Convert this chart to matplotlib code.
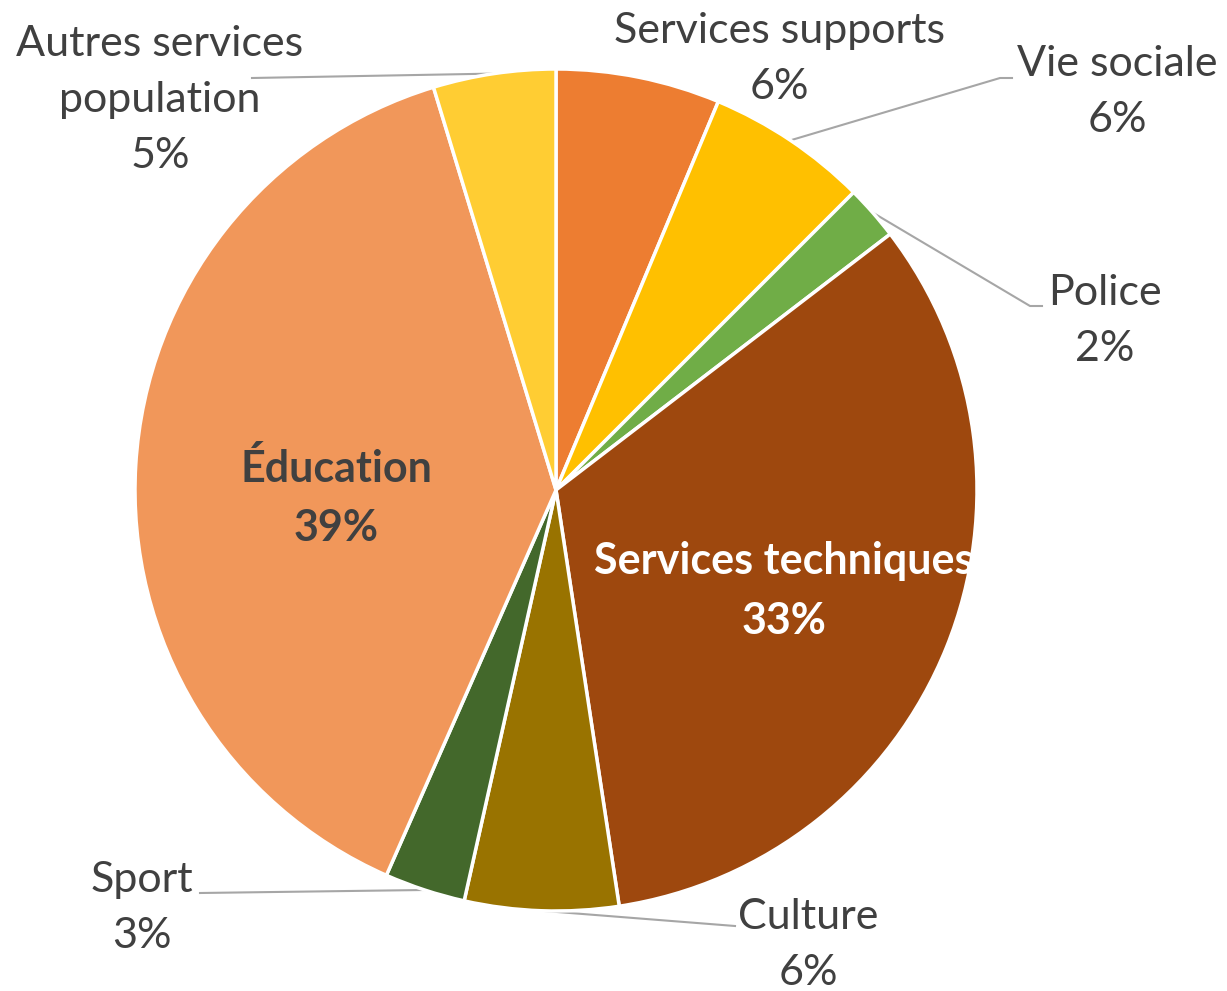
import numpy as np
import matplotlib
matplotlib.use('Agg')
import matplotlib.pyplot as plt

# data, clockwise from 12 o'clock
labels = ['Services supports', 'Vie sociale', 'Police', 'Services techniques',
          'Culture', 'Sport', 'Éducation', 'Autres services\npopulation']
values = [6.3, 6.2, 2.1, 33.0, 5.9, 3.1, 38.7, 4.7]
colors = ['#ED7D31', '#FFC000', '#70AD47', '#9E480E',
          '#997300', '#43682B', '#F1975A', '#FFCD33']

W, H = 1227, 991
plt.rcParams['font.family'] = ['Lato', 'DejaVu Sans']

fig = plt.figure(figsize=(W / 100, H / 100), dpi=100)
ax = fig.add_axes([0, 0, 1, 1])
ax.axis('off')


def py(y):
    # image rows to data y
    return H - y


cx, cy, r = 556, py(490), 421
wedges, _ = ax.pie(values, colors=colors, startangle=90, counterclock=False,
                   center=(cx, cy), radius=r,
                   wedgeprops=dict(edgecolor='white', linewidth=2.5))
ax.set_xlim(0, W)
ax.set_ylim(0, H)
ax.set_aspect('equal')

pct = [round(v / sum(values) * 100) for v in values]
txtcol = '#404040'
fs = 31
ls = 1.58

# label block centres (x, row) and leader-line end points
place = {
    'Services supports': (779, 59, None),
    'Vie sociale': (1117, 92, [(1000, 78), (1012, 78)]),
    'Police': (1105, 321, [(1030, 306), (1042, 306)]),
    'Services techniques': (784, 591, None),
    'Culture': (808, 945, [(735, 926)]),
    'Sport': (142, 908, [(200, 893)]),
    'Éducation': (336, 498, None),
    'Autres services\npopulation': (160, 100, [(252, 78)]),
}

for w, lab, p in zip(wedges, labels, pct):
    x, y, lead = place[lab]
    s = lab + '\n' + str(p) + '%'
    if lab == 'Services techniques':
        t = ax.text(x, py(y), s, ha='center', va='center', fontsize=fs,
                    color='white', fontweight='bold', linespacing=ls)
        t.set_clip_path(w)
    elif lab == 'Éducation':
        ax.text(x, py(y), s, ha='center', va='center', fontsize=fs,
                color=txtcol, fontweight='bold', linespacing=ls)
    else:
        ax.text(x, py(y), s, ha='center', va='center', fontsize=fs,
                color=txtcol, linespacing=ls)
    if lead:
        mid = np.deg2rad((w.theta1 + w.theta2) / 2)
        xs = [cx + r * np.cos(mid)] + [q[0] for q in lead]
        ys = [cy + r * np.sin(mid)] + [py(q[1]) for q in lead]
        ax.plot(xs, ys, color='#A6A6A6', lw=1.5, zorder=0.5)

fig.savefig('out.png', dpi=100)
